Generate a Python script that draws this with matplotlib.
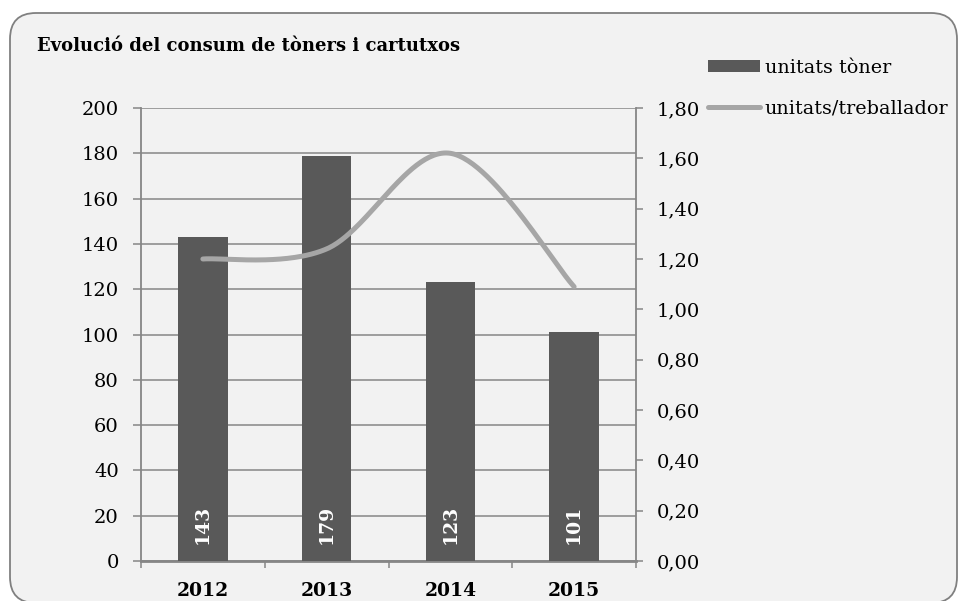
import matplotlib
matplotlib.use("Agg")
import matplotlib.pyplot as plt
import numpy as np
from matplotlib.patches import FancyBboxPatch, Patch
from matplotlib.lines import Line2D
from matplotlib.ticker import FixedLocator, FuncFormatter

TITLE = "Evolució del consum de tòners i cartutxos"
YEARS = ["2012", "2013", "2014", "2015"]
UNITATS_TONER = [143, 179, 123, 101]
UNITATS_TREBALLADOR = [1.20, 1.24, 1.62, 1.09]
LABEL_BARS = "unitats tòner"
LABEL_LINE = "unitats/treballador"

BAR_COLOR = "#595959"
LINE_COLOR = "#A6A6A6"
GRID_COLOR = "#868686"
FONT = "DejaVu Serif"

plt.rcParams["font.family"] = FONT

W, H = 958, 601
fig = plt.figure(figsize=(W / 100, H / 100), dpi=100, facecolor="white")

# background frame, drawn in pixel space
bg = fig.add_axes([0, 0, 1, 1])
bg.set_xlim(0, W)
bg.set_ylim(H, 0)
bg.axis("off")
bg.add_patch(FancyBboxPatch((10, 13), 947, 590, boxstyle="round,pad=0,rounding_size=26",
                            facecolor="#F2F2F2", edgecolor="#808080", linewidth=1.3))


def px(x0, y0, x1, y1):
    return [x0 / W, 1 - y1 / H, (x1 - x0) / W, (y1 - y0) / H]


ax = fig.add_axes(px(141, 108, 636, 561))
ax.patch.set_alpha(0)
x = np.arange(len(YEARS))
ax.bar(x, UNITATS_TONER, width=0.4, color=BAR_COLOR, zorder=3)
ax.set_xlim(-0.5, len(YEARS) - 0.5)
ax.set_ylim(0, 200)
ax.set_yticks(np.arange(0, 201, 20))
ax.yaxis.grid(True, color=GRID_COLOR, linewidth=1.1, zorder=0)
ax.set_axisbelow(True)

# category boundaries as major ticks, labels on minor ticks
ax.xaxis.set_major_locator(FixedLocator(np.arange(-0.5, len(YEARS), 1.0)))
ax.xaxis.set_major_formatter(FuncFormatter(lambda v, p: ""))
ax.xaxis.set_minor_locator(FixedLocator(x))
ax.set_xticklabels(YEARS, minor=True, fontweight="bold", fontsize=13.5)
ax.tick_params(axis="x", which="major", length=5, width=1.1, color=GRID_COLOR)
ax.tick_params(axis="x", which="minor", length=0, pad=15)
ax.tick_params(axis="y", length=6, width=1.1, color=GRID_COLOR, pad=10, labelsize=14)

ax.spines["top"].set_visible(False)
ax.spines["right"].set_visible(False)
ax.spines["left"].set_color(GRID_COLOR)
ax.spines["left"].set_linewidth(1.3)
ax.spines["bottom"].set_color(GRID_COLOR)
ax.spines["bottom"].set_linewidth(2)

for i, v in enumerate(UNITATS_TONER):
    ax.annotate(str(v), xy=(i, 0), xytext=(0, 12), textcoords="offset points",
                rotation=90, ha="center", va="bottom", color="white",
                fontweight="bold", fontsize=13.5, zorder=4)

# secondary axis with smoothed line (Excel-style bezier)
ax2 = ax.twinx()
ax2.set_ylim(0, 1.8)
ax2.set_yticks(np.arange(0, 1.81, 0.2))
ax2.yaxis.set_major_formatter(FuncFormatter(lambda v, p: f"{v:.2f}".replace(".", ",")))
ax2.tick_params(axis="y", length=5, width=1.1, color=GRID_COLOR, pad=10, labelsize=14)
for side in ["top", "left", "bottom"]:
    ax2.spines[side].set_visible(False)
ax2.spines["right"].set_color(GRID_COLOR)
ax2.spines["right"].set_linewidth(1.3)

pts = np.column_stack([x, UNITATS_TREBALLADOR]).astype(float)
t = np.linspace(0, 1, 60)
curve = []
for i in range(len(pts) - 1):
    p0 = pts[i - 1] if i > 0 else pts[i]
    p1, p2 = pts[i], pts[i + 1]
    p3 = pts[i + 2] if i + 2 < len(pts) else pts[i + 1]
    c1 = p1 + (p2 - p0) / 6
    c2 = p2 - (p3 - p1) / 6
    seg = ((1 - t) ** 3)[:, None] * p1 + (3 * (1 - t) ** 2 * t)[:, None] * c1 \
        + (3 * (1 - t) * t ** 2)[:, None] * c2 + (t ** 3)[:, None] * p2
    curve.append(seg)
curve = np.vstack(curve)
ax2.plot(curve[:, 0], curve[:, 1], color=LINE_COLOR, linewidth=3.6,
         solid_capstyle="round", zorder=5)

fig.text(37 / W, 1 - 51 / H, TITLE, fontsize=13, fontweight="bold", va="baseline", ha="left")

handles = [Patch(facecolor=BAR_COLOR, edgecolor="none"),
           Line2D([], [], color=LINE_COLOR, linewidth=3.6, solid_capstyle="round")]
fig.legend(handles, [LABEL_BARS, LABEL_LINE], loc="upper left",
           bbox_to_anchor=(708 / W, 1 - 59 / H), frameon=False, fontsize=13.8,
           borderpad=0, borderaxespad=0, handlelength=2.7, handletextpad=0.25,
           labelspacing=1.15, handleheight=0.6)

fig.savefig("out.png", dpi=100, facecolor="white")
